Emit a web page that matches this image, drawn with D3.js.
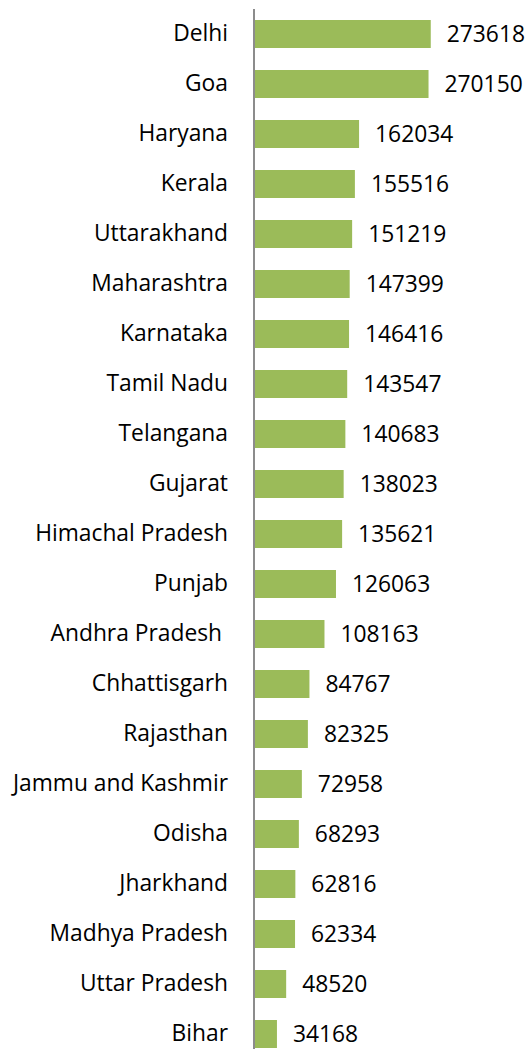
<!DOCTYPE html>
<html>
<head>
<meta charset="utf-8">
<script src="https://cdn.jsdelivr.net/npm/d3@7"></script>
<style>
  body { margin: 0; background: #fff; }
  text { font-family: "Open Sans", "Noto Sans", sans-serif; fill: #000; }
</style>
</head>
<body>
<div id="chart"></div>
<script>
// states, top to bottom
const states = [
  'Delhi', 'Goa', 'Haryana', 'Kerala', 'Uttarakhand', 'Maharashtra', 'Karnataka',
  'Tamil Nadu', 'Telangana', 'Gujarat', 'Himachal Pradesh', 'Punjab', 'Andhra Pradesh ',
  'Chhattisgarh', 'Rajasthan', 'Jammu and Kashmir', 'Odisha', 'Jharkhand',
  'Madhya Pradesh', 'Uttar Pradesh', 'Bihar'
];
const values = [
  273618, 270150, 162034, 155516, 151219, 147399, 146416,
  143547, 140683, 138023, 135621, 126063, 108163,
  84767, 82325, 72958, 68293, 62816,
  62334, 48520, 34168
];

const width = 528, height = 1049;
const axisX = 254;
const fontSize = '22.8px';

const svg = d3.select('#chart').append('svg')
  .attr('width', width)
  .attr('height', height);

const y = d3.scaleBand()
  .domain(states)
  .range([9, 1059])
  .paddingInner(0.44)
  .paddingOuter(0.22);

const x = d3.scaleLinear()
  .domain([0, 300000])
  .range([axisX + 1, axisX + 1 + 192.7]);

const data = states.map((s, i) => ({ name: s, value: values[i] }));

svg.selectAll('rect.bar')
  .data(data)
  .enter().append('rect')
  .attr('class', 'bar')
  .attr('x', x(0))
  .attr('y', d => y(d.name))
  .attr('width', d => x(d.value) - x(0))
  .attr('height', y.bandwidth())
  .style('fill', '#9bbb59');

// value labels
svg.selectAll('text.val')
  .data(data)
  .enter().append('text')
  .attr('class', 'val')
  .attr('x', d => x(d.value) + 16)
  .attr('y', d => y(d.name) + y.bandwidth() / 2)
  .attr('dy', '0.35em')
  .style('font-size', fontSize)
  .text(d => d.value);

// category axis
const yAxis = d3.axisLeft(y).tickSize(0).tickPadding(26);
const gy = svg.append('g')
  .attr('transform', 'translate(' + axisX + ',0)')
  .call(yAxis);
gy.select('.domain')
  .attr('d', 'M0,9V1049')
  .style('stroke', '#8c8c8c')
  .style('stroke-width', 2);
gy.selectAll('text')
  .style('font-size', fontSize)
  .style('font-family', '"Open Sans", "Noto Sans", sans-serif')
  .style('white-space', 'pre')
  .attr('fill', '#000');
</script>
</body>
</html>
